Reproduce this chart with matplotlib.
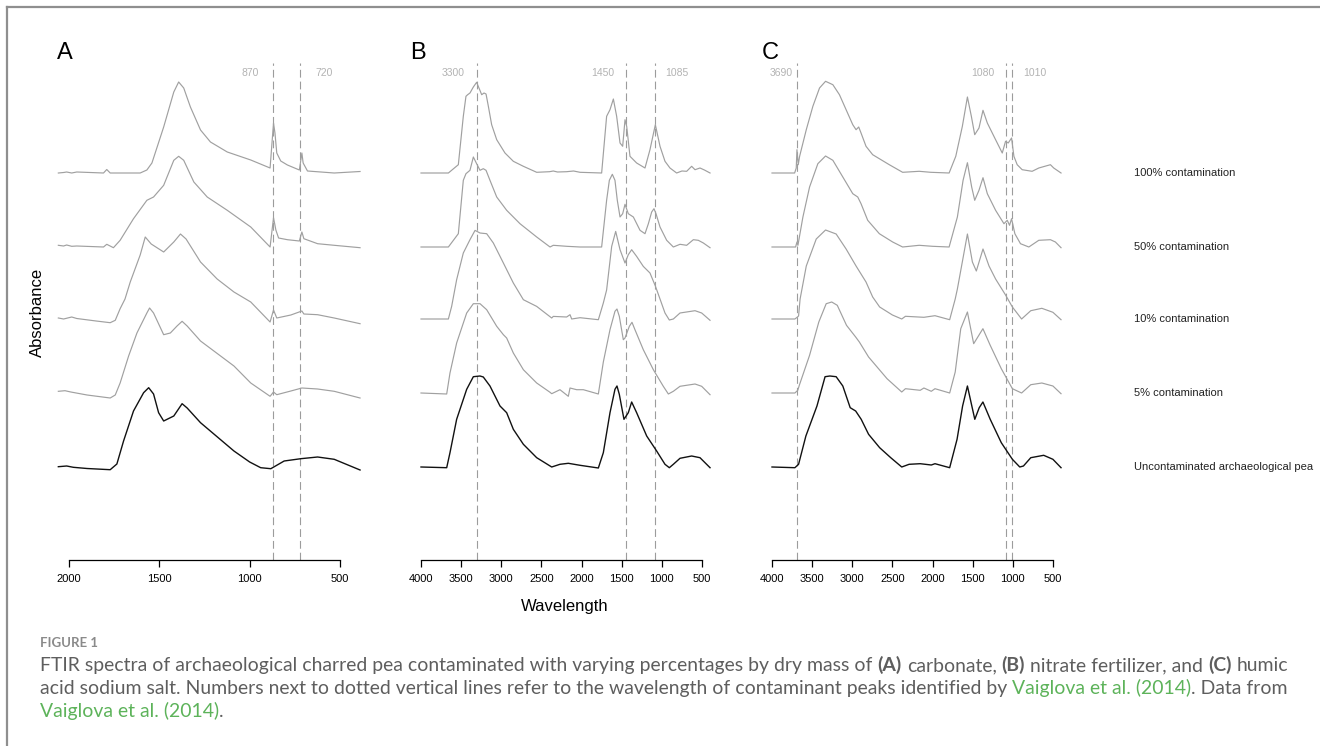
import matplotlib
matplotlib.use("Agg")
import matplotlib.pyplot as plt
from matplotlib.lines import Line2D

plt.rcParams['font.family'] = ['Liberation Sans', 'DejaVu Sans']

# ------------------------------------------------------------------ data
# wavenumbers (cm-1) and relative absorbance (height above each trace's baseline)
# Panel A: carbonate
A100_w = [2059, 2030, 2013, 1985, 1957, 1809, 1791, 1772, 1606, 1569, 1541, 1476, 1420, 1393, 1365, 1328,
          1272, 1217, 1124, 994, 887, 868, 860, 850, 828, 791, 725, 711, 704, 680, 532, 389]
A100_h = [0.00, 0.005, 0.01, 0.00, 0.01, 0.00, 0.035, 0.00, 0.00, 0.03, 0.10, 0.46, 0.81, 0.91, 0.85, 0.66,
          0.43, 0.31, 0.21, 0.13, 0.05, 0.50, 0.40, 0.20, 0.12, 0.08, 0.03, 0.20, 0.10, 0.02, 0.00, 0.015]
A50_w = [2059, 2030, 2013, 1985, 1957, 1809, 1791, 1754, 1717, 1643, 1569, 1532, 1476, 1420, 1393, 1365,
         1309, 1235, 1124, 994, 887, 868, 855, 840, 791, 725, 711, 700, 624, 532, 389]
A50_h = [0.017, 0.01, 0.02, 0.007, 0.01, 0.00, 0.027, -0.007, 0.067, 0.283, 0.467, 0.50, 0.617, 0.867, 0.907, 0.867,
         0.65, 0.50, 0.367, 0.20, 0.00, 0.293, 0.17, 0.09, 0.073, 0.06, 0.15, 0.083, 0.033, 0.017, -0.007]
A10_w = [2059, 2030, 1985, 1957, 1850, 1772, 1744, 1717, 1690, 1661, 1606, 1578, 1545, 1476, 1420, 1383, 1352,
         1272, 1180, 1087, 994, 887, 868, 850, 772, 711, 700, 624, 532, 389]
A10_h = [0.01, 0.00, 0.02, 0.005, -0.02, -0.037, -0.013, 0.103, 0.20, 0.37, 0.64, 0.82, 0.75, 0.67, 0.77, 0.85, 0.80,
         0.57, 0.40, 0.27, 0.17, -0.03, 0.09, 0.01, 0.04, 0.08, 0.05, 0.043, 0.01, -0.047]
A5_w = [2059, 2022, 1990, 1900, 1772, 1744, 1717, 1670, 1624, 1569, 1554, 1532, 1476, 1439, 1402, 1374, 1346,
        1272, 1087, 994, 887, 868, 850, 772, 711, 624, 532, 389]
A5_h = [0.017, 0.023, 0.01, -0.02, -0.05, -0.02, 0.10, 0.37, 0.60, 0.80, 0.85, 0.80, 0.583, 0.60, 0.67, 0.717, 0.67,
        0.52, 0.27, 0.10, -0.033, 0.01, -0.017, 0.02, 0.05, 0.04, 0.017, -0.05]
A0_w = [2059, 2013, 1976, 1900, 1772, 1735, 1698, 1643, 1587, 1559, 1532, 1504, 1476, 1420, 1374, 1346,
        1272, 1087, 1000, 939, 883, 809, 717, 624, 532, 389]
A0_h = [0.003, 0.01, -0.003, -0.015, -0.027, 0.03, 0.26, 0.56, 0.743, 0.793, 0.73, 0.543, 0.46, 0.51, 0.633, 0.59,
        0.443, 0.16, 0.05, -0.007, -0.017, 0.06, 0.083, 0.10, 0.077, -0.03]

# Panel B: nitrate fertilizer
B100_w = [4000, 3659, 3535, 3473, 3440, 3419, 3390, 3348, 3307, 3278, 3244, 3215, 3190, 3161, 3120, 3057, 2954,
          2850, 2725, 2559, 2400, 2352, 2300, 2186, 2100, 2019, 1750, 1688, 1646, 1604, 1563, 1521, 1488, 1459,
          1438, 1397, 1314, 1210, 1148, 1081, 1023, 961, 899, 816, 750, 691, 629, 587, 525, 470, 400]
B100_h = [0, 0, 0.083, 0.567, 0.767, 0.783, 0.80, 0.86, 0.907, 0.85, 0.783, 0.80, 0.79, 0.667, 0.483, 0.333, 0.20,
          0.117, 0.067, 0.007, 0.013, 0.02, 0.01, 0.013, 0.02, 0.007, 0, 0.567, 0.633, 0.74, 0.567, 0.30, 0.267, 0.533,
          0.467, 0.167, 0.10, 0.05, 0.233, 0.483, 0.267, 0.117, 0.05, 0, 0.02, 0.017, 0.067, 0.033, 0.05, 0.03, 0]
B50_w = [4000, 3659, 3535, 3473, 3440, 3390, 3348, 3307, 3265, 3224, 3190, 3141, 3057, 2933, 2767, 2559, 2393,
         2352, 2186, 2019, 1750, 1688, 1654, 1617, 1584, 1555, 1521, 1488, 1459, 1418, 1355, 1272, 1210, 1168,
         1127, 1098, 1073, 1023, 940, 857, 774, 691, 608, 546, 483, 400]
B50_h = [0, 0, 0.133, 0.667, 0.733, 0.767, 0.90, 0.833, 0.767, 0.783, 0.767, 0.667, 0.50, 0.367, 0.233, 0.10, 0,
         0.017, 0.007, 0, 0, 0.467, 0.667, 0.727, 0.667, 0.467, 0.30, 0.333, 0.427, 0.333, 0.30, 0.167, 0.133, 0.233,
         0.35, 0.383, 0.333, 0.20, 0.067, 0, 0.027, 0.017, 0.073, 0.067, 0.04, -0.007]
B10_w = [4000, 3659, 3618, 3556, 3473, 3390, 3327, 3265, 3182, 3099, 2974, 2850, 2725, 2559, 2372, 2352, 2186,
         2144, 2123, 2019, 1791, 1729, 1688, 1625, 1575, 1521, 1459, 1418, 1376, 1314, 1231, 1148, 1081, 1023,
         961, 907, 857, 774, 587, 504, 400]
B10_h = [0, 0, 0.127, 0.393, 0.66, 0.793, 0.886, 0.86, 0.853, 0.76, 0.56, 0.36, 0.193, 0.126, 0.01, 0.026, 0.02,
         0.043, 0, 0.013, -0.007, 0.16, 0.29, 0.726, 0.876, 0.693, 0.56, 0.643, 0.693, 0.626, 0.526, 0.46, 0.33, 0.20,
         0.06, -0.01, 0, 0.06, 0.083, 0.06, -0.013]
B5_w = [4000, 3680, 3639, 3556, 3431, 3348, 3265, 3182, 3057, 2974, 2933, 2850, 2725, 2559, 2393, 2372, 2269,
        2165, 2144, 2061, 1978, 1791, 1729, 1646, 1584, 1559, 1530, 1480, 1459, 1405, 1372, 1335, 1231, 1106,
        982, 919, 857, 774, 587, 504, 400]
B5_h = [0, -0.01, 0.20, 0.50, 0.80, 0.893, 0.893, 0.833, 0.667, 0.583, 0.55, 0.40, 0.233, 0.10, 0.007, -0.007, 0.033,
        -0.033, 0.05, 0.033, 0.033, -0.01, 0.31, 0.633, 0.817, 0.84, 0.767, 0.533, 0.55, 0.667, 0.707, 0.633, 0.433,
        0.233, 0.067, -0.01, 0.017, 0.067, 0.09, 0.067, -0.017]
B0_w = [4000, 3680, 3639, 3556, 3431, 3348, 3265, 3224, 3141, 3016, 2933, 2850, 2725, 2559, 2372, 2269, 2165,
        2019, 1791, 1729, 1646, 1584, 1559, 1530, 1472, 1418, 1376, 1314, 1189, 1065, 961, 907, 857, 774, 629,
        525, 400]
B0_h = [0, -0.007, 0.143, 0.477, 0.777, 0.903, 0.91, 0.90, 0.81, 0.61, 0.543, 0.377, 0.227, 0.093, 0, 0.027, 0.037,
        0.017, -0.01, 0.143, 0.543, 0.777, 0.81, 0.727, 0.477, 0.543, 0.65, 0.543, 0.31, 0.16, 0.027, -0.007, 0.027,
        0.087, 0.11, 0.093, -0.007]

# Panel C: humic acid sodium salt
C100_w = [4000, 3718, 3698, 3689, 3673, 3656, 3573, 3491, 3408, 3333, 3242, 3160, 3077, 2994, 2953, 2920, 2891,
          2829, 2746, 2539, 2373, 2167, 2022, 1794, 1711, 1629, 1566, 1517, 1475, 1422, 1372, 1318, 1215, 1132,
          1091, 1058, 1016, 987, 946, 884, 760, 677, 532, 491, 400]
C100_h = [0, 0, 0.05, 0.233, 0.083, 0.167, 0.433, 0.667, 0.85, 0.917, 0.883, 0.783, 0.633, 0.483, 0.433, 0.46, 0.40,
          0.267, 0.183, 0.083, 0.007, 0.017, 0.007, 0, 0.167, 0.467, 0.76, 0.567, 0.383, 0.45, 0.627, 0.50, 0.333, 0.20,
          0.317, 0.30, 0.35, 0.167, 0.083, 0.033, 0.017, 0.05, 0.083, 0.05, 0]
C50_w = [4000, 3706, 3689, 3677, 3615, 3532, 3429, 3333, 3242, 3118, 2994, 2932, 2891, 2808, 2663, 2497, 2373,
         2167, 2001, 1794, 1691, 1620, 1566, 1513, 1475, 1422, 1372, 1318, 1215, 1111, 1070, 1041, 1016, 975,
         905, 801, 677, 532, 470, 400]
C50_h = [0, 0, 0.05, 0.017, 0.30, 0.60, 0.833, 0.91, 0.867, 0.70, 0.533, 0.50, 0.433, 0.267, 0.133, 0.05, 0,
         0.017, 0.007, 0, 0.30, 0.667, 0.843, 0.60, 0.467, 0.567, 0.693, 0.533, 0.367, 0.233, 0.267, 0.217, 0.283,
         0.133, 0.033, 0, 0.067, 0.073, 0.05, -0.007]
C10_w = [4000, 3715, 3683, 3669, 3650, 3573, 3449, 3333, 3201, 3077, 2953, 2829, 2746, 2659, 2500, 2384, 2338,
         2108, 1970, 1787, 1718, 1691, 1566, 1504, 1455, 1372, 1297, 1215, 1091, 1006, 891, 777, 639, 501, 400]
C10_h = [0, 0, 0.02, 0.03, 0.20, 0.53, 0.80, 0.89, 0.85, 0.70, 0.53, 0.37, 0.22, 0.12, 0.04, 0.0, 0.027,
         0.017, 0.033, -0.007, 0.20, 0.30, 0.85, 0.57, 0.48, 0.70, 0.53, 0.40, 0.24, 0.12, 0.0, 0.083, 0.107, 0.067,
         -0.007]
C5_w = [4000, 3715, 3679, 3660, 3532, 3417, 3325, 3256, 3187, 3072, 2958, 2912, 2797, 2567, 2384, 2338, 2154,
        2108, 2016, 1970, 1787, 1718, 1649, 1566, 1488, 1373, 1282, 1144, 1006, 891, 777, 639, 501, 400]
C5_h = [0, 0, 0.027, 0.077, 0.377, 0.71, 0.893, 0.91, 0.877, 0.677, 0.56, 0.51, 0.36, 0.143, 0.01, 0.043, 0.027,
        0.05, 0.017, 0.043, 0, 0.21, 0.643, 0.81, 0.493, 0.643, 0.477, 0.243, 0.043, 0, 0.083, 0.10, 0.07, -0.007]
C0_w = [4000, 3715, 3669, 3578, 3440, 3339, 3279, 3201, 3118, 3026, 2958, 2889, 2797, 2659, 2521, 2384, 2292,
        2154, 2016, 1970, 1787, 1695, 1626, 1566, 1511, 1474, 1419, 1373, 1282, 1144, 1006, 914, 868, 777, 616,
        501, 400]
C0_h = [0, -0.007, 0.027, 0.31, 0.61, 0.903, 0.91, 0.903, 0.81, 0.593, 0.56, 0.477, 0.327, 0.193, 0.093, 0, 0.027,
        0.033, 0.02, 0.033, -0.007, 0.277, 0.61, 0.81, 0.61, 0.477, 0.593, 0.65, 0.477, 0.243, 0.077, 0, 0.01, 0.093,
        0.117, 0.077, -0.007]

trace_labels = ["100% contamination", "50% contamination", "10% contamination",
                "5% contamination", "Uncontaminated archaeological pea"]
A_peaks = [870, 720]
B_peaks = [3300, 1450, 1085]
C_peaks = [3690, 1080, 1010]
A_ticks = [2000, 1500, 1000, 500]
BC_ticks = [4000, 3500, 3000, 2500, 2000, 1500, 1000, 500]

# ------------------------------------------------------------------ layout
W, H = 1320, 746
fig = plt.figure(figsize=(W / 100, H / 100), dpi=100)


def fx(x):
    return x / W


def fy(y):
    return 1 - y / H


AX_TOP, AX_BOT = 40, 560          # pixel rows of axes
YMAX = (AX_BOT - AX_TOP) / 100.0
base_px = [173, 247, 319, 393, 467]
offsets = [(AX_BOT - b) / 100.0 for b in base_px]
dash_top = (AX_BOT - 63) / 100.0
lab_y = (AX_BOT - 73) / 100.0

GRAY = '#a0a0a0'
DASH = '#9c9c9c'

panels = [
    dict(letter='A', letter_xy=(65, 53),
         spectra=[(A100_w, A100_h), (A50_w, A50_h), (A10_w, A10_h), (A5_w, A5_h), (A0_w, A0_h)],
         peaks=A_peaks, peak_dx=[-23, 24], ticks=A_ticks,
         tick_px=((2000, 69), (500, 340)), ax_px=(50, 365)),
    dict(letter='B', letter_xy=(418, 53),
         spectra=[(B100_w, B100_h), (B50_w, B50_h), (B10_w, B10_h), (B5_w, B5_h), (B0_w, B0_h)],
         peaks=B_peaks, peak_dx=[-24, -23, 22], ticks=BC_ticks,
         tick_px=((4000, 421), (500, 702)), ax_px=(413, 718)),
    dict(letter='C', letter_xy=(770, 53),
         spectra=[(C100_w, C100_h), (C50_w, C50_h), (C10_w, C10_h), (C5_w, C5_h), (C0_w, C0_h)],
         peaks=C_peaks, peak_dx=[-16, -24, 23], ticks=BC_ticks,
         tick_px=((4000, 772), (500, 1053)), ax_px=(764, 1069)),
]

for p in panels:
    (w1, p1), (w2, p2) = p['tick_px']
    slope = (w2 - w1) / (p2 - p1)
    l, r = p['ax_px']
    xl = w1 + (l - p1) * slope
    xr = w1 + (r - p1) * slope
    ax = fig.add_axes([fx(l), fy(AX_BOT), (r - l) / W, (AX_BOT - AX_TOP) / H])
    ax.set_xlim(xl, xr)
    ax.set_ylim(0, YMAX)
    ax.patch.set_alpha(0)
    for s in ['top', 'right', 'left']:
        ax.spines[s].set_visible(False)
    ax.spines['bottom'].set_bounds(min(p['ticks']), max(p['ticks']))
    ax.spines['bottom'].set_linewidth(0.9)
    ax.set_yticks([])
    ax.set_xticks(p['ticks'])
    ax.set_xticklabels([str(t) for t in p['ticks']])
    ax.tick_params(axis='x', direction='out', length=5, width=0.9, labelsize=8, pad=5)

    for pk, dx in zip(p['peaks'], p['peak_dx']):
        ax.plot([pk, pk], [0, dash_top], ls=(0, (7, 3.6)), color=DASH, lw=0.8, zorder=1)
        ax.annotate(str(pk), xy=(pk, lab_y), xytext=(dx, 0), textcoords='offset pixels',
                    ha='center', va='center', fontsize=7.5, color='#b3b3b3')

    for i, (ws, hs) in enumerate(p['spectra']):
        col = '#111111' if i == 4 else GRAY
        lw = 1.0 if i == 4 else 0.85
        ax.plot(ws, [h + offsets[i] for h in hs], color=col, lw=lw, zorder=2)

    lx, ly = p['letter_xy']
    fig.text(fx(lx), fy(ly), p['letter'], fontsize=17, ha='center', va='center')

for lab, b in zip(trace_labels, base_px):
    fig.text(fx(1134), fy(b), lab, fontsize=8, ha='left', va='center', color='#222222')

fig.text(fx(37), fy(312), 'Absorbance', rotation=90, fontsize=12, ha='center', va='center')
fig.text(fx(565), fy(606), 'Wavelength', fontsize=12, ha='center', va='center')

# frame lines (top and left)
fig.add_artist(Line2D([fx(7), 1], [fy(7), fy(7)], color='#8f8f8f', lw=1.6, transform=fig.transFigure))
fig.add_artist(Line2D([fx(7), fx(7)], [fy(7), 0], color='#8f8f8f', lw=1.6, transform=fig.transFigure))

# ------------------------------------------------------------------ caption
CAP_FONT = ['Lato', 'DejaVu Sans']
CAP_COL = '#5e5e5e'
GREEN = '#5db35a'
CAP_X0, CAP_X1 = 40, 1285   # pixel extent of the first caption line

fig.text(fx(40), fy(647), 'FIGURE 1', fontsize=9.5, fontweight='bold', color='#8a8a8a',
         family=CAP_FONT, ha='left', va='baseline')

renderer = fig.canvas.get_renderer()

line1 = [
    ('FTIR spectra of archaeological charred pea contaminated with varying percentages by dry mass of ', 'normal', CAP_COL),
    ('(A)', 'bold', CAP_COL), (' carbonate, ', 'normal', CAP_COL),
    ('(B)', 'bold', CAP_COL), (' nitrate fertilizer, and ', 'normal', CAP_COL),
    ('(C)', 'bold', CAP_COL), (' humic', 'normal', CAP_COL)]
line2 = [
    ('acid sodium salt. Numbers next to dotted vertical lines refer to the wavelength of contaminant peaks identified by ',
     'normal', CAP_COL),
    ('Vaiglova et al. (2014)', 'normal', GREEN), ('. Data from', 'normal', CAP_COL)]
line3 = [('Vaiglova et al. (2014)', 'normal', GREEN), ('.', 'normal', CAP_COL)]


def text_w(s, weight, size):
    t = fig.text(0, 0, s, fontsize=size, fontweight=weight, family=CAP_FONT)
    w = t.get_window_extent(renderer).width
    t.remove()
    return w


def runs_width(runs, size):
    sw = text_w('a a', 'normal', size) - text_w('aa', 'normal', size)
    tot = 0
    for s, weight, col in runs:
        lead = len(s) - len(s.lstrip(' '))
        trail = len(s) - len(s.rstrip(' '))
        core = s.strip(' ')
        tot += (lead + trail) * sw
        if core:
            tot += text_w(core, weight, size)
    return tot


base_size = 12.0
CAP_SIZE = base_size * (CAP_X1 - CAP_X0) / runs_width(line1, base_size)
space_w = text_w('a a', 'normal', CAP_SIZE) - text_w('aa', 'normal', CAP_SIZE)


def draw_runs(x0, ybase, runs):
    x = x0
    for s, weight, col in runs:
        lead = len(s) - len(s.lstrip(' '))
        trail = len(s) - len(s.rstrip(' '))
        x += lead * space_w
        core = s.strip(' ')
        if core:
            t = fig.text(x / W, fy(ybase), core, fontsize=CAP_SIZE, fontweight=weight, color=col,
                         family=CAP_FONT, ha='left', va='baseline')
            x += t.get_window_extent(renderer).width
        x += trail * space_w


draw_runs(CAP_X0, 671, line1)
draw_runs(CAP_X0, 694, line2)
draw_runs(CAP_X0, 717, line3)

fig.savefig('out.png', dpi=100)
